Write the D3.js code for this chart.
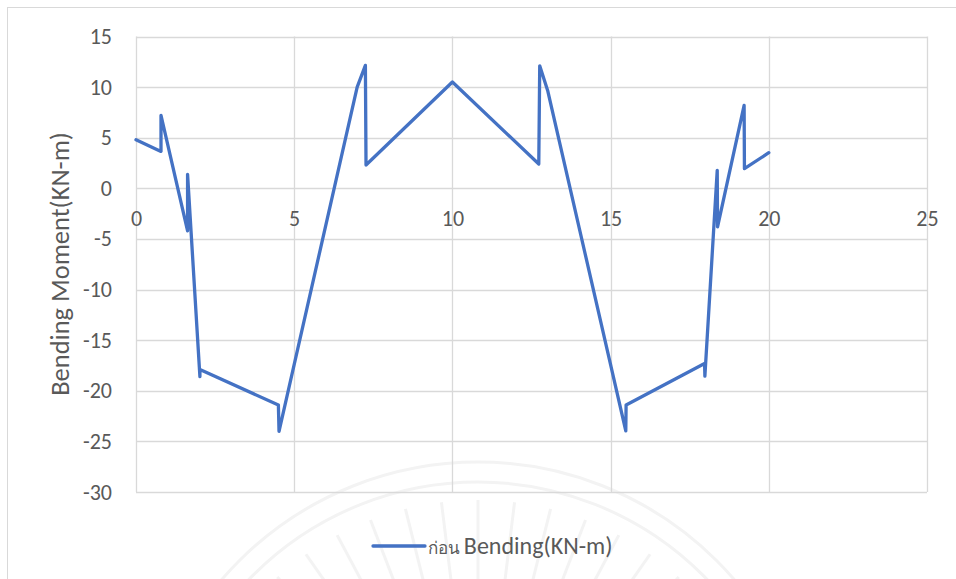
<!DOCTYPE html>
<html><head><meta charset="utf-8">
<script src="https://cdn.jsdelivr.net/npm/d3@7"></script>
<style>html,body{margin:0;padding:0;background:#fff;}svg{display:block;}</style>
</head><body>
<script>
const xValues = [0, 0.79, 0.79, 1.63, 1.63, 2.02, 2.02, 4.5, 4.52, 6.99, 7.25, 7.27, 10, 12.73, 12.76, 13.01, 15.48, 15.49, 17.97, 17.98, 18.37, 18.38, 19.22, 19.23, 20];
const yValues = [4.8, 3.65, 7.2, -4.2, 1.38, -18.6, -17.9, -21.4, -24.0, 10.0, 12.15, 2.3, 10.5, 2.4, 12.1, 9.67, -23.96, -21.4, -17.3, -18.56, 1.78, -3.8, 8.19, 1.94, 3.52];
const xTicks = [0, 5, 10, 15, 20, 25];
const yTicks = [15, 10, 5, 0, -5, -10, -15, -20, -25, -30];
const seriesName = "ก่อน Bending(KN-m)";
const yTitle = "Bending Moment(KN-m)";

const W = 956, H = 579;
const font = "Calibri, Carlito, Lato, 'Open Sans', sans-serif";
const svg = d3.select("body").append("svg").attr("width", W).attr("height", H);

// watermark (faint)
const wm = svg.append("g").attr("fill", "none").attr("stroke", "#f3f3f3").attr("stroke-width", 3);
wm.append("circle").attr("cx", 478).attr("cy", 800).attr("r", 338);
wm.append("circle").attr("cx", 478).attr("cy", 800).attr("r", 318);
for (let a = -70; a <= 70; a += 7) {
  const r = a * Math.PI / 180;
  wm.append("line").attr("x1", 478 + Math.sin(r) * 200).attr("y1", 800 - Math.cos(r) * 200)
    .attr("x2", 478 + Math.sin(r) * 300).attr("y2", 800 - Math.cos(r) * 300);
}

// outer border
svg.append("rect").attr("x", 7.5).attr("y", 7.5).attr("width", 960).attr("height", 600)
  .attr("fill", "none").attr("stroke", "#d9d9d9").attr("stroke-width", 1);

const x = d3.scaleLinear().domain([0, 25]).range([136, 927]);
const y = d3.scaleLinear().domain([-30, 15]).range([492, 36.5]);

// gridlines
const grid = svg.append("g");
grid.selectAll(".h").data(yTicks).join("line")
  .attr("x1", x(0)).attr("x2", x(25))
  .attr("y1", d => Math.round(y(d)) + 0.5).attr("y2", d => Math.round(y(d)) + 0.5)
  .attr("stroke", "#d9d9d9").attr("stroke-width", 1.3);
grid.selectAll(".v").data(xTicks).join("line")
  .attr("y1", y(15)).attr("y2", y(-30))
  .attr("x1", d => Math.round(x(d)) + 0.5).attr("x2", d => Math.round(x(d)) + 0.5)
  .attr("stroke", "#d9d9d9").attr("stroke-width", 1.3);

// y axis labels
const yAxis = d3.axisLeft(y).tickValues(yTicks).tickSize(0).tickPadding(0).tickFormat(d => String(d));
const ya = svg.append("g").attr("transform", "translate(112,0)").call(yAxis);
ya.select(".domain").remove();
ya.selectAll("text").attr("font-family", font).attr("font-size", 22).attr("fill", "#595959");

// x axis labels (positioned below y=0)
const xAxis = d3.axisBottom(x).tickValues(xTicks).tickSize(0).tickPadding(0).tickFormat(d => String(d));
const xa = svg.append("g").attr("transform", `translate(0,${y(0) + 31})`).call(xAxis);
xa.select(".domain").remove();
xa.selectAll("text").attr("font-family", font).attr("font-size", 22).attr("fill", "#595959")
  .attr("dy", "0.32em").attr("y", 0);

// y title
svg.append("text").attr("transform", `translate(69,264) rotate(-90)`)
  .attr("text-anchor", "middle").attr("font-family", font).attr("font-size", 26.5)
  .attr("fill", "#595959").text(yTitle);

// series
const pts = xValues.map((v, i) => [v, yValues[i]]);
svg.append("path").datum(pts)
  .attr("d", d3.line().x(d => x(d[0])).y(d => y(d[1])))
  .attr("fill", "none").attr("stroke", "#4472C4").attr("stroke-width", 3.3)
  .attr("stroke-linejoin", "round").attr("stroke-linecap", "round");

// legend
svg.append("line").attr("x1", 373).attr("x2", 425).attr("y1", 546).attr("y2", 546)
  .attr("stroke", "#4472C4").attr("stroke-width", 3.3).attr("stroke-linecap", "round");
const lg = svg.append("text").attr("x", 428).attr("y", 554).attr("font-family", font)
  .attr("fill", "#595959");
lg.append("tspan").attr("font-size", 17).text(seriesName.split(" ")[0] + " ");
lg.append("tspan").attr("font-size", 24).text(seriesName.split(" ").slice(1).join(" "));
</script>
</body></html>
